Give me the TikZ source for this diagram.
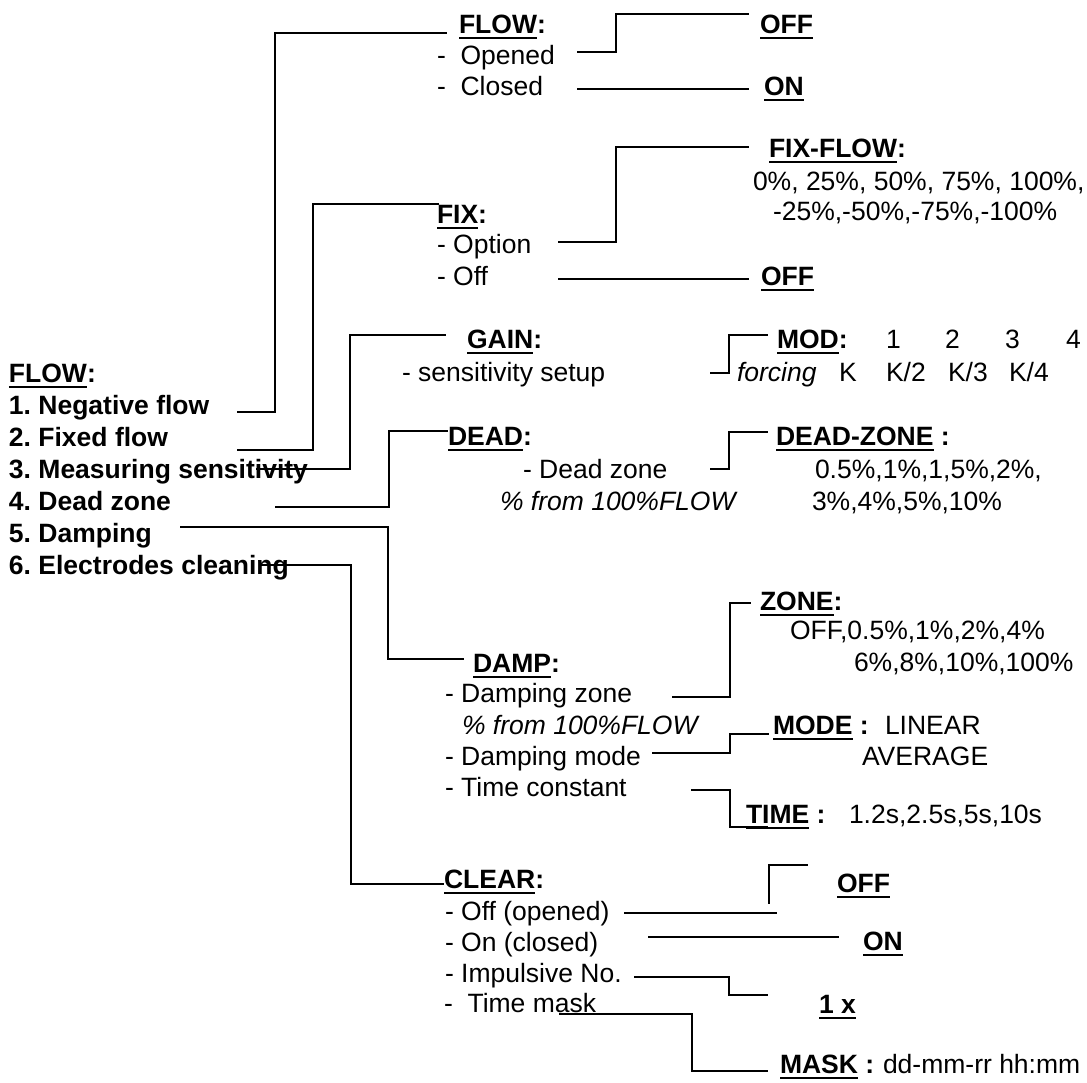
\documentclass[tikz,border=0pt]{standalone}
\usepackage{fontspec}
\setmainfont{Liberation Sans}
\frenchspacing
\newcommand\ulx[1]{\setbox0=\hbox{#1}\rlap{\vrule height -3.5pt depth 6pt width \wd0}\box0}
\tikzset{
  txt/.style={anchor=base west, inner sep=0pt, outer sep=0pt, font=\fontsize{26.5}{31}\selectfont},
  btxt/.style={txt, font=\fontsize{26.5}{31}\selectfont\bfseries},
  itxt/.style={txt, font=\fontsize{26.5}{31}\selectfont\itshape},
  conn/.style={draw=black, line width=1.9pt, line join=miter, line cap=rect}
}
\begin{document}
\begin{tikzpicture}[x=1pt,y=-1pt]
\useasboundingbox (0,0) rectangle (1087,1082);
% ---------- left column ----------
\node[btxt] (flowMain) at (9,382) {\ulx{FLOW}:};
\node[btxt] (i1) at (9,414) {1. Negative flow};
\node[btxt] (i2) at (9,446) {2. Fixed flow};
\node[btxt] (i3) at (9,478) {3. Measuring sensitivity};
\node[btxt] (i4) at (9,510) {4. Dead zone};
\node[btxt] (i5) at (9,542) {5. Damping};
\node[btxt] (i6) at (9,574) {6. Electrodes cleaning};
% ---------- FLOW ----------
\node[btxt] (hFlow) at (459,33) {\ulx{FLOW}:};
\node[txt] (opened) at (437,64) {-~~Opened};
\node[txt] (closed) at (437,95) {-~~Closed};
\node[btxt] (offTop) at (760,33) {\ulx{OFF}};
\node[btxt] (onTop) at (764,95) {\ulx{ON}};
% ---------- FIX ----------
\node[btxt] (fix) at (437,223) {\ulx{FIX}:};
\node[txt] (option) at (437,253) {- Option};
\node[txt] (offopt) at (437,285) {- Off};
\node[btxt] (fixflow) at (769,157) {\ulx{FIX-FLOW}:};
\node[txt] (ffv1) at (753,190) {0\%, 25\%, 50\%, 75\%, 100\%,};
\node[txt] (ffv2) at (773,220) {-25\%,-50\%,-75\%,-100\%};
\node[btxt] (offFix) at (761,285) {\ulx{OFF}};
% ---------- GAIN ----------
\node[btxt] (gain) at (467,348) {\ulx{GAIN}:};
\node[txt] (sens) at (402,381) {- sensitivity setup};
\node[btxt] (mod) at (777,348) {\ulx{MOD}:};
\node[txt] (m1) at (886,348) {1};
\node[txt] (m2) at (945,348) {2};
\node[txt] (m3) at (1005,348) {3};
\node[txt] (m4) at (1066,348) {4};
\node[itxt] (forcing) at (737,381) {forcing};
\node[txt] (k1) at (839,381) {K};
\node[txt] (k2) at (886,381) {K/2};
\node[txt] (k3) at (948,381) {K/3};
\node[txt] (k4) at (1009,381) {K/4};
% ---------- DEAD ----------
\node[btxt] (dead) at (448,445) {\ulx{DEAD}:};
\node[txt] (deadz) at (523,478) {- Dead zone};
\node[itxt] (deadpct) at (500,510) {\% from 100\%FLOW};
\node[btxt] (dzHead) at (776,445) {\ulx{DEAD-ZONE}~:};
\node[txt] (dz1) at (815,478) {0.5\%,1\%,1,5\%,2\%,};
\node[txt] (dz2) at (812,510) {3\%,4\%,5\%,10\%};
% ---------- DAMP ----------
\node[btxt] (damp) at (473,672) {\ulx{DAMP}:};
\node[txt] (dzone) at (445,702) {- Damping zone};
\node[itxt] (dpct) at (462,734) {\% from 100\%FLOW};
\node[txt] (dmode) at (445,765) {- Damping mode};
\node[txt] (dtime) at (445,796) {- Time constant};
\node[btxt] (zone) at (760,610) {\ulx{ZONE}:};
\node[txt] (zv1) at (790,639) {OFF,0.5\%,1\%,2\%,4\%};
\node[txt] (zv2) at (854,671) {6\%,8\%,10\%,100\%};
\node[btxt] (mode) at (773,734) {\ulx{MODE}~:};
\node[txt] (linear) at (885,734) {LINEAR};
\node[txt] (average) at (862,765) {AVERAGE};
\node[btxt] (time) at (746,823) {\ulx{TIME}~:};
\node[txt] (timev) at (849,823) {1.2s,2.5s,5s,10s};
% ---------- CLEAR ----------
\node[btxt] (clear) at (444,888) {\ulx{CLEAR}:};
\node[txt] (coff) at (445,920) {- Off (opened)};
\node[txt] (con) at (445,951) {- On (closed)};
\node[txt] (cimp) at (445,982) {- Impulsive No.};
\node[txt] (cmask) at (444,1012) {-~~Time mask};
\node[btxt] (offC) at (837,892) {\ulx{OFF}};
\node[btxt] (onC) at (863,950) {\ulx{ON}};
\node[btxt] (onex) at (819,1013) {\ulx{1 x}};
\node[btxt] (maskH) at (780,1073) {\ulx{MASK}~:};
\node[txt] (maskv) at (883,1073) {dd-mm-rr hh:mm};
% ---------- connector end points ----------
\coordinate (s1) at (238,412); \coordinate (e1) at (446,33);
\coordinate (s2) at (238,450); \coordinate (e2) at (438,204);
\coordinate (s3) at (257,469); \coordinate (e3) at (445,335);
\coordinate (s4) at (276,507); \coordinate (e4) at (447,431);
\coordinate (s5) at (181,527); \coordinate (e5) at (463,659);
\coordinate (s6) at (260,565); \coordinate (e6) at (443,884);
\coordinate (s7) at (578,52);  \coordinate (e7) at (748,14);
\coordinate (s8) at (578,89);  \coordinate (e8) at (748,89);
\coordinate (s9) at (559,242); \coordinate (e9) at (748,147);
\coordinate (s10) at (559,279); \coordinate (e10) at (748,279);
\coordinate (s11) at (711,373); \coordinate (e11) at (767,335);
\coordinate (s12) at (711,469); \coordinate (e12) at (767,432);
\coordinate (s13) at (673,697); \coordinate (e13) at (750,603);
\coordinate (s14) at (653,753); \coordinate (e14) at (768,734);
\coordinate (s15) at (692,790); \coordinate (e15) at (767,827);
\coordinate (s16) at (625,913); \coordinate (e16) at (776,913);
\coordinate (sw1) at (769,903); \coordinate (sw2) at (807,865);
\coordinate (s17) at (649,937); \coordinate (e17) at (838,937);
\coordinate (s18) at (635,977); \coordinate (e18) at (767,995);
\coordinate (s19) at (560,1014); \coordinate (e19) at (767,1071);
% ---------- connectors ----------
\draw[conn] (s1) -- (275,412) -- (275,33) -- (e1);
\draw[conn] (s2) -- (313,450) -- (313,204) -- (e2);
\draw[conn] (s3) -- (350,469) -- (350,335) -- (e3);
\draw[conn] (s4) -- (389,507) -- (389,431) -- (e4);
\draw[conn] (s5) -- (388,527) -- (388,659) -- (e5);
\draw[conn] (s6) -- (351,565) -- (351,884) -- (e6);
\draw[conn] (s7) -- (616,52) -- (616,14) -- (e7);
\draw[conn] (s8) -- (e8);
\draw[conn] (s9) -- (616,242) -- (616,147) -- (e9);
\draw[conn] (s10) -- (e10);
\draw[conn] (s11) -- (729,373) -- (729,335) -- (e11);
\draw[conn] (s12) -- (729,469) -- (729,432) -- (e12);
\draw[conn] (s13) -- (730,697) -- (730,603) -- (e13);
\draw[conn] (s14) -- (730,753) -- (730,734) -- (e14);
\draw[conn] (s15) -- (730,790) -- (730,827) -- (e15);
\draw[conn] (s16) -- (e16);
\draw[conn] (sw1) -- (769,865) -- (sw2);
\draw[conn] (s17) -- (e17);
\draw[conn] (s18) -- (729,977) -- (729,995) -- (e18);
\draw[conn] (s19) -- (692,1014) -- (692,1071) -- (e19);
\end{tikzpicture}
\end{document}
